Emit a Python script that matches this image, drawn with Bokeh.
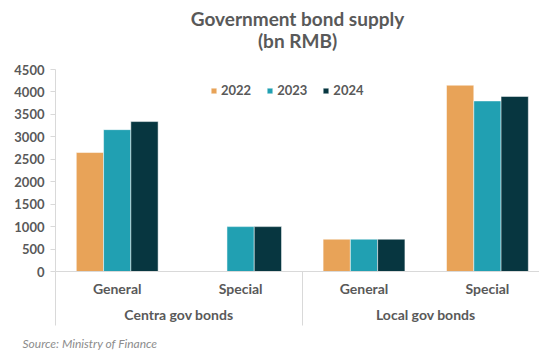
from bokeh.plotting import figure
from bokeh.models import (Range1d, FixedTicker, LinearAxis, Title, Legend, LegendItem,
                          ColumnDataSource, Label)
from bokeh.transform import dodge
from bokeh.embed import file_html
from bokeh.resources import INLINE

# ---- data ----
groups = ["Centra gov bonds", "Local gov bonds"]
subcats = ["General", "Special", "General", "Special"]
years = ["2022", "2023", "2024"]
v2022 = [2650, 0, 720, 4150]
v2023 = [3160, 1000, 720, 3800]
v2024 = [3340, 1000, 720, 3900]
y_ticks = [0, 500, 1000, 1500, 2000, 2500, 3000, 3500, 4000, 4500]

colors = ["#E8A358", "#21A0B2", "#073640"]
FONT = "Lato"
TXT = "#595959"
GRID = "#D9D9D9"

centers = [i + 0.5 for i in range(len(subcats))]
bounds = [2 * i for i in range(len(groups) + 1)]
group_centers = [2 * i + 1 for i in range(len(groups))]

src = ColumnDataSource(dict(x=centers, v2022=v2022, v2023=v2023, v2024=v2024))

p = figure(width=539, height=351, output_backend="svg", toolbar_location=None,
           x_range=Range1d(0, 3.922), y_range=Range1d(0, 4500),
           x_axis_location=None, y_axis_location=None,
           min_border_left=55, min_border_right=0, min_border_top=69, min_border_bottom=80)
p.grid.visible = False
p.outline_line_color = None
p.background_fill_color = "white"
p.border_fill_color = "white"

bw = 0.221
renderers = []
for k, (yr, col) in enumerate(zip(years, colors)):
    r = p.vbar(x=dodge("x", (k - 1) * bw, range=p.x_range), top="v" + yr, width=bw,
               bottom=0, source=src, fill_color=col, line_color="white", line_width=0.5)
    renderers.append(r)

yaxis = LinearAxis(ticker=FixedTicker(ticks=y_ticks, minor_ticks=[]),
                   axis_line_color=GRID, major_tick_line_color=GRID,
                   major_tick_in=0, major_tick_out=5, minor_tick_line_color=None,
                   major_label_text_font=FONT, major_label_text_font_style="bold",
                   major_label_text_font_size="13px", major_label_text_color=TXT,
                   major_label_standoff=6)
p.add_layout(yaxis, "left")

xaxis = LinearAxis(ticker=FixedTicker(ticks=centers, minor_ticks=bounds),
                   major_label_overrides={c: s for c, s in zip(centers, subcats)},
                   axis_line_color=GRID, major_tick_line_color=None,
                   minor_tick_line_color=GRID, minor_tick_in=0, minor_tick_out=54,
                   major_label_text_font=FONT, major_label_text_font_style="bold",
                   major_label_text_font_size="14px", major_label_text_color=TXT,
                   major_label_standoff=-46)
p.add_layout(xaxis, "below")

gaxis = LinearAxis(ticker=FixedTicker(ticks=group_centers, minor_ticks=[]),
                   major_label_overrides={c: g for c, g in zip(group_centers, groups)},
                   axis_line_color=None, major_tick_line_color=None,
                   minor_tick_line_color=None, major_tick_out=0, major_tick_in=0,
                   major_label_text_font=FONT, major_label_text_font_style="bold",
                   major_label_text_font_size="14px", major_label_text_color=TXT,
                   major_label_standoff=6)
p.add_layout(gaxis, "below")

p.add_layout(Label(text="Source: Ministry of Finance", x=-33, y=-3,
                   x_units="screen", y_units="screen",
                   text_align="left", text_baseline="middle",
                   text_font=FONT, text_font_style="italic", text_font_size="12px",
                   text_color="#8C8C8C"), "below")

# spacer between subtitle and frame, then subtitle, then main title
p.add_layout(Title(text=" ", text_font_size="1px", standoff=15), "above")
p.add_layout(Title(text="(bn RMB)", align="center", offset=-13,
                   text_font=FONT, text_font_style="bold", text_font_size="19px",
                   text_color=TXT, standoff=0), "above")
p.add_layout(Title(text="Government bond supply", align="center", offset=-14,
                   text_font=FONT, text_font_style="bold", text_font_size="19px",
                   text_color=TXT, standoff=-6), "above")

legend = Legend(items=[LegendItem(label=yr, renderers=[r]) for yr, r in zip(years, renderers)],
                orientation="horizontal", location=(155, 173),
                glyph_width=7, glyph_height=7, label_standoff=4, spacing=15,
                padding=0, margin=0, border_line_color=None, background_fill_alpha=0,
                label_height=14,
                label_text_font=FONT, label_text_font_style="bold",
                label_text_font_size="13px", label_text_color=TXT)
p.add_layout(legend)

open("out.html", "w").write(file_html(p, INLINE))
